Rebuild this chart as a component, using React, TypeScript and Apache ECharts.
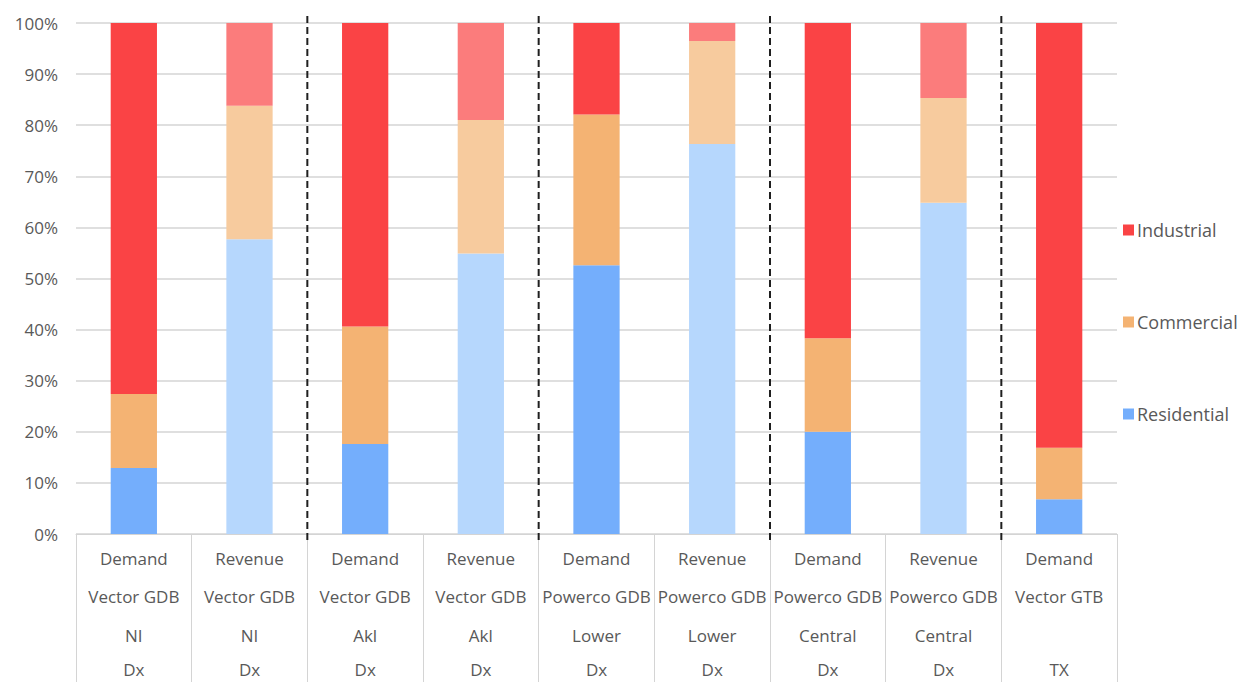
import React, { useEffect, useRef } from "react";
import * as echarts from "echarts";

// Category labels, one row per level (Excel-style multi-level axis)
const measureRow = ["Demand", "Revenue", "Demand", "Revenue", "Demand", "Revenue", "Demand", "Revenue", "Demand"];
const modelRow = ["Vector GDB", "Vector GDB", "Vector GDB", "Vector GDB", "Powerco GDB", "Powerco GDB", "Powerco GDB", "Powerco GDB", "Vector GTB"];
const regionRow = ["NI", "NI", "Akl", "Akl", "Lower", "Lower", "Central", "Central", ""];
const levelRow = ["Dx", "Dx", "Dx", "Dx", "Dx", "Dx", "Dx", "Dx", "TX"];

// Share of each customer class (%)
const residential = [12.9, 57.7, 17.6, 54.9, 52.6, 76.3, 20.0, 64.8, 6.8];
const commercial = [14.5, 26.1, 23.0, 26.1, 29.5, 20.2, 18.3, 20.5, 10.1];
const industrial = [72.6, 16.2, 59.4, 19.0, 17.9, 3.5, 61.7, 14.7, 83.1];

// Boundaries (after category index) where a dashed separator is drawn
const separators = [1, 3, 5, 7];

const yTicks = [0, 10, 20, 30, 40, 50, 60, 70, 80, 90, 100];

const FONT = "'Open Sans', 'Noto Sans', sans-serif";
const TEXT = "#595959";
const ROW_HEIGHT = 38.5;

const palette = {
  Industrial: { base: "#fa4345", light: "#fb7c7c" },
  Commercial: { base: "#f4b373", light: "#f7cb9e" },
  Residential: { base: "#74aefc", light: "#b6d7fd" },
};

const categories = measureRow.map((_, i) => `c${i}`);

function seriesData(values: number[], name: keyof typeof palette) {
  return values.map((v, i) => ({
    value: v,
    itemStyle: { color: measureRow[i] === "Revenue" ? palette[name].light : palette[name].base },
  }));
}

export default function App() {
  const ref = useRef<HTMLDivElement>(null);

  useEffect(() => {
    if (!ref.current) return;
    const chart = echarts.init(ref.current, undefined, { renderer: "svg" });

    const bar = (name: keyof typeof palette, values: number[]) => ({
      name,
      type: "bar" as const,
      stack: "share",
      barWidth: "40%",
      itemStyle: { color: palette[name].base },
      data: seriesData(values, name),
    });

    const labelFont = { color: TEXT, fontSize: 17, fontFamily: FONT };

    chart.setOption({
      animation: false,
      backgroundColor: "#ffffff",
      grid: {
        left: 76,
        right: 125,
        top: 23,
        bottom: 148,
        containLabel: false,
        outerBoundsMode: "none",
      },
      legend: {
        orient: "vertical",
        left: 1118,
        top: 216,
        itemGap: 74,
        itemWidth: 11,
        itemHeight: 11,
        icon: "rect",
        data: ["Industrial", "Commercial", "Residential"],
        textStyle: { color: TEXT, fontSize: 18, fontFamily: FONT, padding: [0, 0, 0, -2] },
      },
      xAxis: [
        {
          type: "category",
          data: categories,
          axisLine: { show: true, lineStyle: { color: "#d4d4d4", width: 1 } },
          axisTick: { show: true, length: 150, interval: 0, lineStyle: { color: "#d4d4d4", width: 1 } },
          axisLabel: {
            ...labelFont,
            interval: 0,
            margin: 5,
            lineHeight: ROW_HEIGHT,
            formatter: (_v: string, i: number) =>
              [measureRow[i], modelRow[i], regionRow[i] || " "].join("\n"),
          },
          splitLine: { show: false },
        },
        {
          // bottom row of the category labels (Dx / TX)
          type: "category",
          position: "bottom",
          data: categories,
          axisLine: { show: false },
          axisTick: { show: false },
          splitLine: { show: false },
          axisLabel: {
            ...labelFont,
            interval: 0,
            margin: 127,
            lineHeight: 16,
            formatter: (_v: string, i: number) => levelRow[i],
          },
        },
      ],
      yAxis: {
        type: "value",
        min: 0,
        max: 100,
        interval: 10,
        axisLine: { show: false },
        axisTick: { show: false },
        axisLabel: {
          ...labelFont,
          margin: 18,
          formatter: (v: number) => (yTicks.includes(v) ? `${v}%` : ""),
        },
        splitLine: { lineStyle: { color: "#d4d4d4", width: 1.5 } },
      },
      series: [
        bar("Residential", residential),
        bar("Commercial", commercial),
        bar("Industrial", industrial),
        {
          name: "separators",
          type: "custom",
          silent: true,
          clip: false,
          z: 5,
          data: separators.map((k) => [k, 0]),
          renderItem: (params: any, api: any) => {
            const k = api.value(0);
            const top = api.coord([k, 100]);
            const bottom = api.coord([k + 1, 0]);
            const x = (top[0] + bottom[0]) / 2;
            return {
              type: "line",
              shape: { x1: x, y1: top[1] - 7, x2: x, y2: bottom[1] + 6 },
              style: { stroke: "#1f1f1f", lineWidth: 2, lineDash: [7, 4] },
            };
          },
        },
      ],
    });

    return () => chart.dispose();
  }, []);

  return (
    <div
      ref={ref}
      style={{ position: "fixed", left: 0, top: 0, width: 1242, height: 682, overflow: "hidden" }}
    />
  );
}
